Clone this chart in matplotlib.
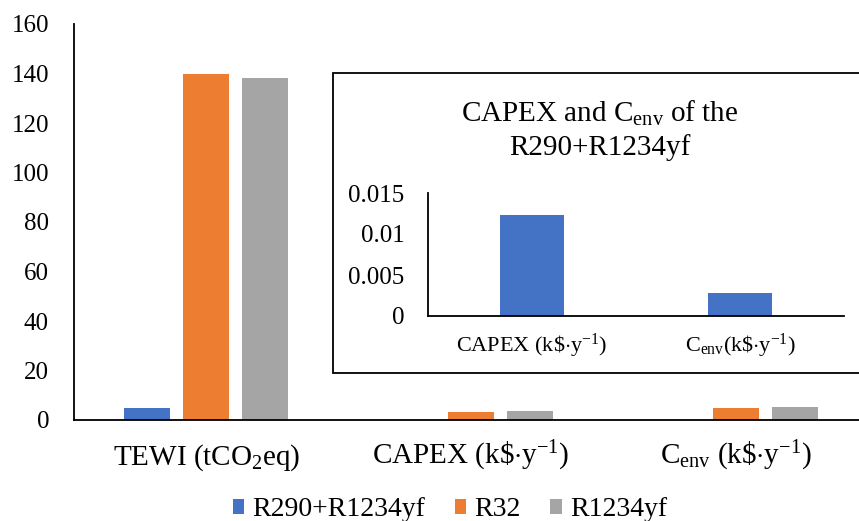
import matplotlib
matplotlib.use("Agg")
import matplotlib.pyplot as plt
import numpy as np
from matplotlib.patches import Rectangle, Patch

plt.rcParams["font.family"] = ["Liberation Serif", "DejaVu Serif"]
plt.rcParams["mathtext.fontset"] = "custom"
plt.rcParams["mathtext.rm"] = "Liberation Serif"
plt.rcParams["mathtext.it"] = "Liberation Serif:italic"

# main chart data
categories = [r"TEWI (tCO$_2$eq)", r"CAPEX (k\$$\cdot$y$^{-1}$)", r"C$_{\mathrm{env}}$ (k\$$\cdot$y$^{-1}$)"]
series = ["R290+R1234yf", "R32", "R1234yf"]
r290_r1234yf = [4.7, 0.0123, 0.0028]
r32 = [140.0, 3.1, 4.8]
r1234yf = [138.0, 3.5, 5.4]
yticks_main = [0, 20, 40, 60, 80, 100, 120, 140, 160]

# inset data (R290+R1234yf only)
inset_categories = [r"CAPEX (k\$$\cdot$y$^{-1}$)", r"C$_{\mathrm{env}}$(k\$$\cdot$y$^{-1}$)"]
inset_values = [0.0123, 0.0028]
inset_yticks = [0, 0.005, 0.01, 0.015]
inset_yticklabels = ["0", "0.005", "0.01", "0.015"]

colors = ["#4472C4", "#ED7D31", "#A5A5A5"]

W, H = 859, 521
fig = plt.figure(figsize=(W / 100, H / 100), dpi=100)


def px_axes(left, top, right, bottom):
    return [left / W, 1 - bottom / H, (right - left) / W, (bottom - top) / H]


ax = fig.add_axes(px_axes(74, 24, 868, 420))
x = np.arange(len(categories))
width = 0.174
step = 0.223
for i, (vals, name) in enumerate(zip([r290_r1234yf, r32, r1234yf], series)):
    ax.bar(x + (i - 1) * step, vals, width, color=colors[i], label=name)
ax.set_xlim(-0.5, 2.5)
ax.set_ylim(0, 160)
ax.set_yticks(yticks_main)
ax.set_xticks(x)
ax.set_xticklabels(categories, fontsize=21)
for lab in ax.get_xticklabels():
    lab.set_verticalalignment("baseline")
ax.tick_params(axis="x", length=0, pad=32)
ax.tick_params(axis="y", length=0, pad=18, labelsize=18)
for s in ["top", "right"]:
    ax.spines[s].set_visible(False)
for s in ["left", "bottom"]:
    ax.spines[s].set_linewidth(1.3)
    ax.spines[s].set_color("black")

# inset frame
box = Rectangle((333 / W, 1 - 373 / H), (867 - 333) / W, (373 - 73) / H,
                transform=fig.transFigure, facecolor="white", edgecolor="black",
                linewidth=1.3, zorder=1)
fig.patches.append(box)
fig.text(600 / W, 1 - 130 / H, "CAPEX and C$_{\\mathrm{env}}$ of the\nR290+R1234yf",
         ha="center", va="center", fontsize=21, linespacing=1.3, zorder=3)

axi = fig.add_axes(px_axes(428, 193, 844, 316))
axi.set_zorder(2)
axi.patch.set_alpha(0)
axi.bar(np.arange(len(inset_categories)), inset_values, 0.31, color=colors[0])
axi.set_xlim(-0.5, 1.5)
axi.set_ylim(0, 0.015)
axi.set_yticks(inset_yticks)
axi.set_yticklabels(inset_yticklabels)
axi.set_xticks(np.arange(len(inset_categories)))
axi.set_xticklabels(inset_categories, fontsize=16)
for lab in axi.get_xticklabels():
    lab.set_verticalalignment("baseline")
axi.tick_params(axis="x", length=0, pad=26)
axi.tick_params(axis="y", length=0, pad=17, labelsize=18)
for s in ["top", "right"]:
    axi.spines[s].set_visible(False)
for s in ["left", "bottom"]:
    axi.spines[s].set_linewidth(1.3)
    axi.spines[s].set_color("black")

handles = [Patch(facecolor=c, label=n) for c, n in zip(colors, series)]
fig.legend(handles=handles, loc="center", bbox_to_anchor=(450 / W, 1 - 510 / H),
           ncol=3, frameon=False, fontsize=20, handlelength=0.42, handleheight=0.42,
           handletextpad=0.3, columnspacing=1.05, borderpad=0)

fig.savefig("out.png", dpi=100)
